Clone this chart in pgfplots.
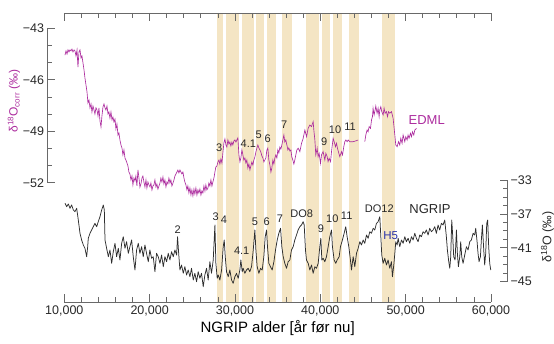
\documentclass[border=0pt]{standalone}
\usepackage{fontspec}
\setmainfont{Liberation Sans}
\usepackage{pgfplots}
\pgfplotsset{compat=1.18}
\definecolor{band}{RGB}{244,229,196}
\definecolor{edml}{RGB}{172,44,158}
\definecolor{axgray}{RGB}{105,105,105}
\definecolor{txt}{RGB}{40,40,40}
\definecolor{hblue}{RGB}{40,50,170}
\begin{document}
\begin{tikzpicture}[x=1pt,y=1pt]
\pgfplotsset{every axis/.append style={scale only axis,
  axis line style={axgray, line width=0.8pt}, tick style={axgray, line width=0.8pt},
  tick align=inside}}
% frame with bands
\begin{axis}[at={(64.3pt,41pt)}, anchor=south west, width=426.7pt, height=289pt,
  xmin=10, xmax=60, ymin=0, ymax=1,
  axis x line=box, axis y line=none, axis on top,
  xtick={10,20,...,60},
  xticklabels={10{,}000,20{,}000,30{,}000,40{,}000,50{,}000,60{,}000},
  minor xtick={12,14,16,18,22,24,26,28,32,34,36,38,42,44,46,48,52,54,56,58},
  major tick length=8pt, minor tick length=5pt,
  xticklabel style={font=\fontsize{12.5}{14}\selectfont, text=txt},
  xlabel={NGRIP alder [år før nu]},
  xlabel style={font=\fontsize{15}{17}\selectfont, text=black, yshift=2pt}]
\fill[band] (axis cs:27.85,0) rectangle (axis cs:28.6,1);
\fill[band] (axis cs:28.9,0) rectangle (axis cs:30.45,1);
\fill[band] (axis cs:30.8,0) rectangle (axis cs:32.2,1);
\fill[band] (axis cs:32.5,0) rectangle (axis cs:33.4,1);
\fill[band] (axis cs:33.8,0) rectangle (axis cs:34.8,1);
\fill[band] (axis cs:35.5,0) rectangle (axis cs:36.7,1);
\fill[band] (axis cs:38.3,0) rectangle (axis cs:39.9,1);
\fill[band] (axis cs:40.2,0) rectangle (axis cs:41.1,1);
\fill[band] (axis cs:41.5,0) rectangle (axis cs:42.5,1);
\fill[band] (axis cs:43.4,0) rectangle (axis cs:44.5,1);
\fill[band] (axis cs:47.2,0) rectangle (axis cs:48.7,1);
\end{axis}
% EDML
\begin{axis}[at={(47.5pt,160.3pt)}, anchor=south west, width=443.5pt, height=154.4pt,
  xmin=8.031, xmax=60, ymin=-52, ymax=-43,
  axis x line=none, axis y line*=left, clip=false,
  ytick={-52,-49,-46,-43}, yticklabels={−52,−49,−46,−43},
  minor ytick={-51,-50,-48,-47,-45,-44},
  major tick length=7pt, minor tick length=4pt,
  yticklabel style={font=\fontsize{12.5}{14}\selectfont, text=txt}]
\addplot[edml, line width=0.65pt] coordinates {
(10.08,-44.56)(10.20,-44.32)(10.32,-44.50)(10.43,-44.26)(10.55,-44.38)(10.67,-44.26)(10.78,-44.32)(10.90,-44.21)(11.02,-44.38)(11.14,-44.26)(11.25,-44.32)(11.37,-44.61)(11.49,-44.26)(11.60,-45.26)(11.72,-44.38)(11.84,-44.26)(11.96,-44.73)(12.07,-44.61)(12.19,-45.02)(12.31,-45.43)(12.42,-45.90)(12.54,-46.30)(12.66,-46.71)(12.77,-47.35)(12.89,-47.18)(13.01,-47.64)(13.13,-47.41)(13.24,-47.88)(13.36,-47.53)(13.48,-47.76)(13.59,-47.99)(13.71,-47.64)(13.83,-47.76)(13.95,-48.11)(14.06,-47.64)(14.18,-48.40)(14.30,-48.75)(14.41,-48.11)(14.53,-47.59)(14.65,-47.41)(14.77,-47.64)(14.88,-47.76)(15.00,-47.53)(15.12,-47.99)(15.23,-47.88)(15.35,-48.23)(15.47,-47.88)(15.59,-48.34)(15.70,-48.17)(15.82,-48.46)(15.94,-48.29)(16.05,-48.87)(16.17,-48.58)(16.29,-49.22)(16.40,-49.10)(16.52,-49.51)(16.64,-49.80)(16.76,-49.98)(16.87,-50.38)(16.99,-50.09)(17.11,-50.56)(17.22,-50.68)(17.34,-50.85)(17.46,-51.03)(17.57,-51.38)(17.69,-51.49)(17.81,-51.84)(17.93,-51.61)(18.04,-52.13)(18.16,-51.73)(18.28,-51.90)(18.39,-51.61)(18.51,-52.19)(18.63,-51.26)(18.75,-51.73)(18.86,-52.25)(18.98,-52.07)(19.10,-51.73)(19.21,-51.61)(19.33,-51.96)(19.45,-52.25)(19.57,-51.84)(19.68,-52.31)(19.80,-51.96)(19.92,-52.13)(20.04,-52.25)(20.15,-52.02)(20.27,-52.42)(20.39,-52.19)(20.50,-52.13)(20.62,-51.84)(20.74,-52.25)(20.85,-52.07)(20.97,-52.37)(21.09,-52.19)(21.21,-52.02)(21.32,-51.73)(21.44,-51.96)(21.56,-51.67)(21.67,-52.07)(21.79,-51.84)(21.91,-52.25)(22.03,-51.96)(22.14,-52.07)(22.26,-51.73)(22.38,-52.02)(22.49,-51.84)(22.61,-52.19)(22.73,-52.02)(22.85,-51.84)(22.96,-51.61)(23.08,-51.49)(23.20,-51.38)(23.31,-51.26)(23.43,-51.43)(23.55,-51.26)(23.67,-51.38)(23.78,-51.49)(23.90,-51.38)(24.02,-51.73)(24.13,-51.96)(24.25,-52.13)(24.37,-52.42)(24.48,-52.19)(24.60,-52.60)(24.72,-52.31)(24.84,-52.72)(24.95,-52.42)(25.07,-52.77)(25.19,-52.37)(25.30,-52.66)(25.42,-52.31)(25.54,-52.72)(25.66,-52.42)(25.77,-52.60)(25.89,-52.37)(26.01,-52.72)(26.12,-52.48)(26.24,-52.60)(26.36,-52.19)(26.48,-52.48)(26.59,-52.13)(26.71,-52.42)(26.83,-52.31)(26.94,-52.02)(27.06,-52.19)(27.18,-51.84)(27.30,-52.19)(27.41,-51.96)(27.53,-51.73)(27.65,-51.38)(27.76,-51.08)(27.88,-51.03)(28.00,-50.79)(28.12,-50.68)(28.23,-50.91)(28.35,-50.62)(28.47,-50.85)(28.58,-50.27)(28.70,-49.68)(28.82,-49.45)(28.94,-49.80)(29.05,-49.92)(29.17,-49.51)(29.29,-49.74)(29.40,-49.63)(29.52,-49.86)(29.64,-49.63)(29.75,-49.80)(29.87,-49.57)(29.99,-49.51)(30.11,-49.63)(30.22,-49.51)(30.34,-49.39)(30.46,-50.38)(30.58,-50.79)(30.69,-50.56)(30.81,-50.09)(30.93,-50.38)(31.04,-50.68)(31.16,-50.56)(31.28,-50.85)(31.39,-50.68)(31.51,-51.14)(31.63,-50.91)(31.75,-51.26)(31.86,-51.03)(31.98,-50.79)(32.10,-50.97)(32.21,-50.68)(32.33,-50.50)(32.45,-50.21)(32.57,-49.98)(32.68,-49.80)(32.80,-49.98)(32.92,-50.09)(33.03,-50.21)(33.15,-50.44)(33.27,-50.56)(33.39,-50.79)(33.50,-50.68)(33.62,-50.56)(33.74,-50.09)(33.85,-49.98)(33.97,-50.68)(34.09,-50.97)(34.21,-51.38)(34.32,-51.14)(34.44,-50.68)(34.56,-50.91)(34.67,-50.56)(34.79,-50.38)(34.91,-50.56)(35.02,-50.09)(35.14,-50.27)(35.26,-49.92)(35.38,-50.04)(35.49,-49.80)(35.61,-49.51)(35.73,-49.22)(35.84,-49.63)(35.96,-49.51)(36.08,-49.80)(36.20,-50.09)(36.31,-49.98)(36.43,-50.15)(36.55,-50.09)(36.66,-50.50)(36.78,-50.68)(36.90,-50.91)(37.01,-50.68)(37.13,-50.38)(37.25,-50.09)(37.40,-49.99)(37.60,-50.19)(37.80,-49.70)(37.99,-49.41)(38.19,-48.93)(38.39,-49.32)(38.57,-48.83)(38.77,-48.64)(38.97,-48.73)(39.16,-48.44)(39.24,-48.93)(39.36,-49.51)(39.47,-50.38)(39.63,-49.99)(39.74,-50.48)(39.86,-50.29)(40.02,-50.87)(40.14,-50.38)(40.33,-50.19)(40.53,-50.68)(40.65,-50.29)(40.80,-50.48)(40.91,-50.77)(41.03,-50.58)(41.20,-50.77)(41.31,-50.19)(41.43,-49.70)(41.50,-49.41)(41.62,-49.61)(41.78,-49.90)(41.90,-49.70)(42.01,-49.99)(42.17,-50.29)(42.28,-50.48)(42.48,-50.19)(42.60,-50.38)(42.75,-49.90)(42.87,-49.61)(42.99,-49.51)(43.14,-49.61)(43.26,-49.51)(43.46,-49.61)(43.84,-49.61)(44.24,-49.55)(44.43,-49.51)};
\addplot[edml, line width=0.65pt] coordinates {
(45.21,-49.61)(45.33,-49.22)(45.48,-48.93)(45.60,-49.03)(45.72,-48.73)(45.88,-48.83)(46.00,-48.34)(46.11,-48.15)(46.18,-47.66)(46.30,-48.05)(46.42,-47.76)(46.50,-47.53)(46.65,-47.95)(46.77,-47.66)(46.89,-48.15)(46.97,-47.76)(47.09,-47.57)(47.20,-47.86)(47.36,-48.05)(47.47,-47.66)(47.59,-47.95)(47.75,-47.86)(47.87,-48.15)(47.99,-47.86)(48.14,-47.95)(48.34,-47.86)(48.53,-48.25)(48.73,-49.22)(48.84,-49.80)(49.00,-49.90)(49.16,-49.61)(49.31,-49.80)(49.43,-49.41)(49.58,-49.70)(49.70,-49.22)(49.90,-49.61)(50.01,-49.32)(50.17,-49.51)(50.28,-49.22)(50.40,-49.41)(50.56,-49.12)(50.68,-49.32)(50.80,-49.03)(50.95,-49.22)(51.07,-48.93)(51.27,-48.83)};
\end{axis}
% NGRIP
\begin{axis}[at={(64.3pt,61.3pt)}, anchor=south west, width=442.7pt, height=101.7pt,
  xmin=10, xmax=61.875, ymin=-45, ymax=-33,
  axis x line=none, axis y line*=right, clip=false,
  ytick={-45,-41,-37,-33}, yticklabels={−45,−41,−37,−33},
  minor ytick={-44,-43,-42,-40,-39,-38,-36,-35,-34},
  major tick length=7pt, minor tick length=4pt,
  yticklabel style={font=\fontsize{12.5}{14}\selectfont, text=txt}]
\addplot[black!82, line width=0.75pt, line join=round] coordinates {
(10.08,-35.75)(10.28,-36.15)(10.47,-35.83)(10.67,-36.34)(10.86,-35.95)(11.06,-36.54)(11.25,-36.74)(11.45,-36.34)(11.64,-37.72)(11.84,-39.29)(12.03,-40.08)(12.23,-40.67)(12.42,-41.06)(12.62,-42.05)(12.74,-40.87)(12.81,-39.88)(13.01,-39.29)(13.20,-38.90)(13.40,-38.51)(13.59,-38.11)(13.79,-38.51)(13.98,-37.92)(14.18,-37.33)(14.38,-36.54)(14.57,-35.95)(14.69,-36.54)(14.77,-40.08)(14.96,-41.06)(15.16,-42.05)(15.35,-41.26)(15.55,-42.83)(15.74,-41.46)(15.94,-40.47)(16.13,-42.05)(16.33,-41.06)(16.52,-42.44)(16.72,-40.47)(16.91,-39.69)(17.11,-41.06)(17.30,-40.28)(17.50,-41.65)(17.69,-40.87)(17.89,-40.08)(18.08,-42.05)(18.28,-43.62)(18.47,-41.26)(18.67,-40.47)(18.86,-41.65)(19.06,-40.87)(19.25,-42.05)(19.45,-40.67)(19.64,-41.65)(19.84,-42.64)(20.03,-41.26)(20.23,-42.24)(20.42,-42.05)(20.62,-43.82)(20.81,-41.65)(21.01,-42.05)(21.21,-42.83)(21.40,-41.85)(21.60,-43.23)(21.79,-42.05)(21.99,-42.64)(22.18,-41.65)(22.38,-42.44)(22.57,-41.46)(22.77,-42.05)(22.96,-41.26)(23.16,-41.85)(23.27,-39.69)(23.43,-42.05)(23.55,-43.62)(23.74,-43.03)(23.94,-44.01)(24.13,-43.23)(24.33,-44.21)(24.52,-43.62)(24.72,-44.41)(24.91,-43.42)(25.11,-44.80)(25.30,-44.01)(25.50,-45.00)(25.69,-43.82)(25.89,-44.60)(26.08,-44.01)(26.28,-45.59)(26.47,-44.21)(26.67,-43.42)(26.86,-44.80)(27.06,-42.64)(27.25,-44.01)(27.45,-42.44)(27.65,-38.31)(27.76,-42.83)(27.92,-44.60)(28.04,-44.21)(28.23,-44.80)(28.43,-43.62)(28.62,-40.87)(28.74,-40.08)(28.86,-42.05)(29.01,-43.82)(29.21,-44.41)(29.40,-43.62)(29.60,-44.80)(29.79,-45.19)(29.99,-44.41)(30.18,-44.01)(30.38,-44.60)(30.57,-43.62)(30.69,-42.44)(30.85,-43.82)(30.96,-43.42)(31.16,-44.01)(31.35,-43.62)(31.55,-43.42)(31.74,-43.82)(31.94,-43.23)(32.14,-41.26)(32.33,-38.90)(32.45,-41.26)(32.60,-43.23)(32.80,-44.01)(32.99,-43.42)(33.19,-43.62)(33.38,-42.05)(33.54,-39.69)(33.70,-38.90)(33.81,-40.87)(33.97,-42.83)(34.16,-43.23)(34.36,-43.62)(34.56,-42.64)(34.75,-41.26)(34.95,-40.08)(35.14,-39.29)(35.34,-38.70)(35.49,-40.87)(35.65,-42.05)(35.84,-42.83)(36.04,-43.42)(36.23,-42.64)(36.43,-42.44)(36.62,-41.26)(36.82,-40.87)(37.01,-40.08)(37.21,-39.49)(37.40,-38.90)(37.60,-38.51)(37.79,-38.31)(37.99,-37.92)(38.11,-38.31)(38.26,-41.26)(38.38,-42.44)(38.58,-42.83)(38.77,-43.62)(38.97,-43.03)(39.16,-44.01)(39.36,-43.23)(39.55,-43.42)(39.75,-42.83)(39.94,-40.87)(40.06,-39.88)(40.18,-42.44)(40.33,-42.24)(40.53,-42.64)(40.72,-42.05)(40.92,-40.87)(41.11,-39.69)(41.31,-38.90)(41.42,-40.87)(41.62,-42.44)(41.81,-42.83)(41.97,-42.44)(42.21,-42.05)(42.36,-40.87)(42.59,-40.08)(42.79,-39.29)(42.98,-38.51)(43.14,-39.69)(43.34,-40.87)(43.53,-42.44)(43.65,-43.62)(43.85,-42.05)(44.04,-43.23)(44.24,-41.65)(44.43,-41.06)(44.63,-40.28)(44.82,-40.67)(45.02,-40.08)(45.21,-40.47)(45.41,-39.49)(45.60,-39.88)(45.80,-39.10)(45.99,-39.29)(46.19,-38.70)(46.38,-38.90)(46.58,-38.11)(46.77,-37.92)(46.97,-37.33)(47.09,-39.69)(47.20,-41.85)(47.36,-42.83)(47.55,-42.24)(47.75,-43.03)(47.94,-42.44)(48.14,-43.42)(48.33,-42.64)(48.45,-44.41)(48.61,-43.03)(48.73,-41.65)(48.84,-40.28)(49.00,-40.67)(49.12,-39.88)(49.31,-40.87)(49.51,-40.08)(49.70,-40.47)(49.90,-39.69)(50.09,-40.28)(50.29,-39.88)(50.48,-40.47)(50.68,-39.69)(50.87,-40.08)(51.07,-39.29)(51.26,-39.88)(51.46,-40.28)(51.65,-39.49)(51.85,-39.69)(52.04,-39.10)(52.24,-39.29)(52.43,-38.90)(52.63,-39.49)(52.82,-38.70)(53.02,-39.10)(53.21,-38.90)(53.41,-38.51)(53.60,-39.29)(53.80,-38.31)(53.99,-38.90)(54.19,-38.11)(54.38,-38.31)(54.58,-37.72)(54.77,-39.69)(54.89,-41.26)(55.05,-42.64)(55.17,-43.42)(55.28,-42.05)(55.40,-37.72)(55.52,-39.69)(55.63,-42.05)(55.79,-42.44)(55.95,-38.90)(56.06,-41.65)(56.18,-43.23)(56.34,-42.05)(56.45,-40.28)(56.57,-42.05)(56.73,-42.83)(56.92,-41.85)(57.12,-40.87)(57.31,-41.26)(57.51,-40.28)(57.70,-40.08)(57.90,-39.29)(58.09,-39.49)(58.21,-38.70)(58.37,-40.28)(58.48,-41.65)(58.60,-42.64)(58.76,-42.05)(58.87,-40.08)(58.99,-38.31)(59.15,-41.26)(59.26,-43.03)(59.38,-41.65)(59.50,-38.11)(59.61,-37.72)(59.73,-40.87)(59.85,-42.83)(59.97,-43.62)};
\end{axis}
% labels
\node[rotate=90, text=edml, font=\fontsize{12}{14}\selectfont] at (14,242) {δ\textsuperscript{18}O\textsubscript{corr} (‰)};
\node[rotate=90, text=txt, font=\fontsize{12.5}{14}\selectfont] at (547.5,106) {δ\textsuperscript{18}O (‰)};
\begin{scope}[every node/.style={text=txt, font=\fontsize{11}{13}\selectfont, inner sep=0pt}]
\node at (219.3,195.3) {3};
\node at (248.3,199.7) {4.1};
\node at (258.7,208) {5};
\node at (267.7,204.7) {6};
\node at (284.3,218) {7};
\node at (324.3,201.3) {9};
\node at (335,213.7) {10};
\node at (350,216.3) {11};
\node at (177.7,113.7) {2};
\node at (215.7,126.3) {3};
\node at (224,123) {4};
\node at (241.7,92.3) {4.1};
\node at (255,121.3) {5};
\node at (266.7,121.3) {6};
\node at (280,124.7) {7};
\node at (301.7,129.7) {DO8};
\node at (321,114.7) {9};
\node at (332.3,124.7) {10};
\node at (346.7,127) {11};
\node at (379.3,134.7) {DO12};
\end{scope}
\node[text=edml, font=\fontsize{13}{15}\selectfont, inner sep=0pt] at (426.7,223) {EDML};
\node[text=txt, font=\fontsize{13}{15}\selectfont, inner sep=0pt] at (430,133.7) {NGRIP};
\node[text=hblue, font=\fontsize{11.5}{13}\selectfont, inner sep=0pt] at (390.7,107.3) {H5};
\pgfresetboundingbox
\path[use as bounding box] (0,0) rectangle (554,343);
\end{tikzpicture}
\end{document}
